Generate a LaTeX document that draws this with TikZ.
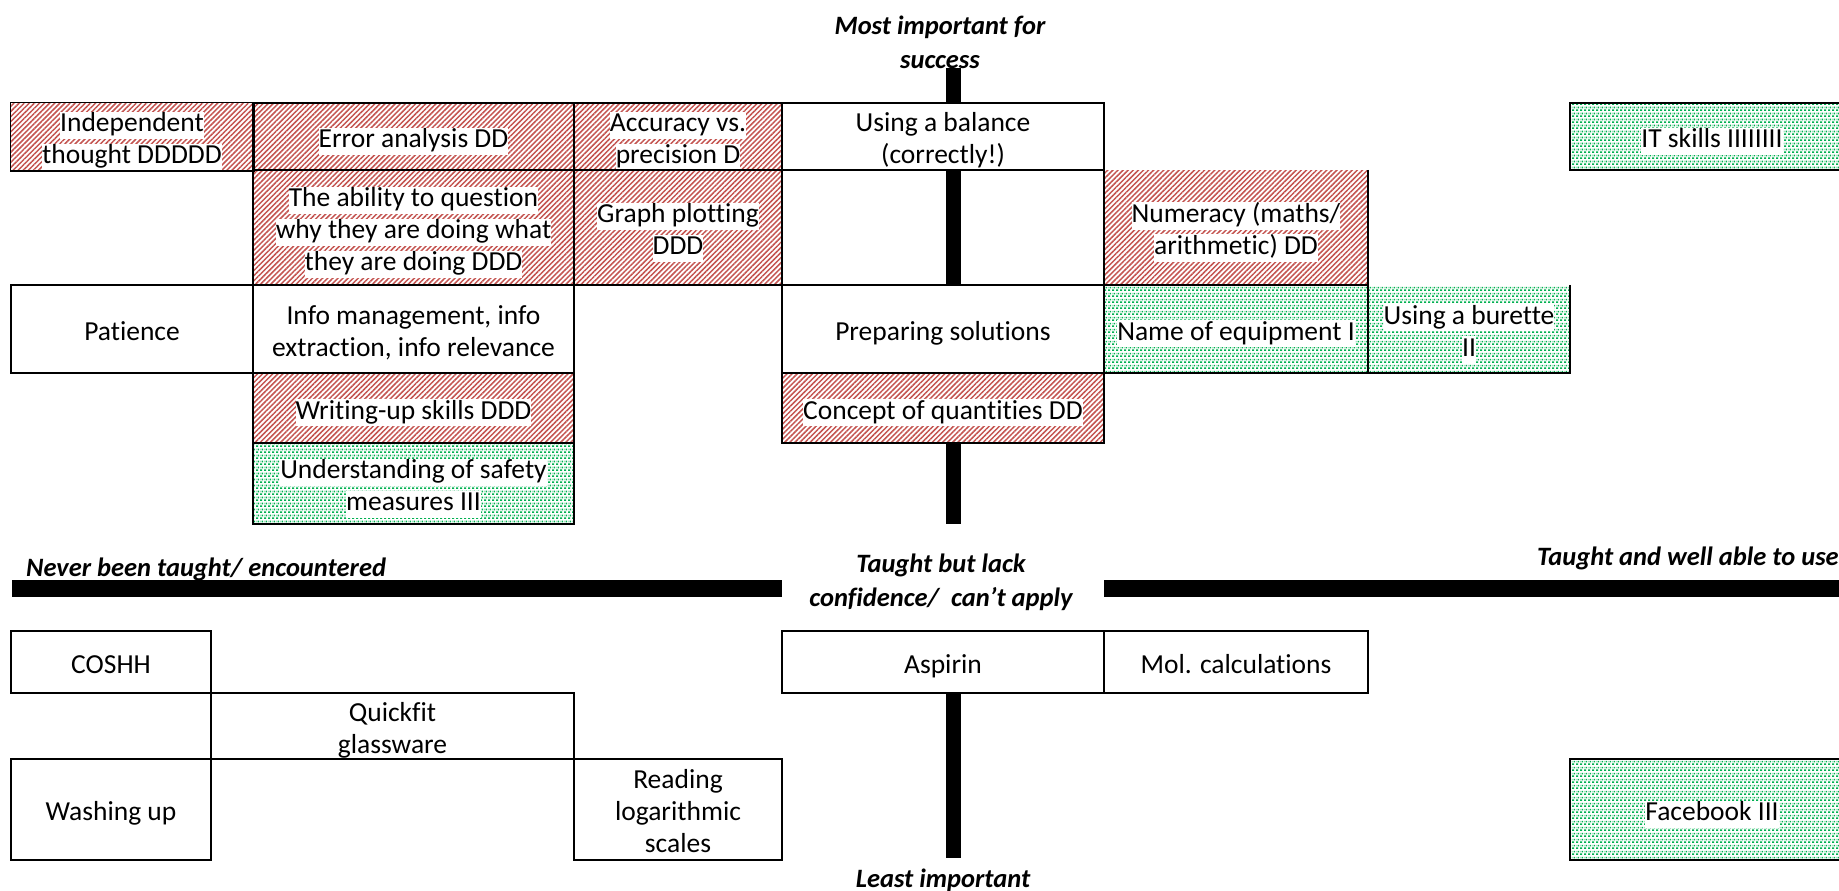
\documentclass[tikz,border=0pt]{standalone}
\usepackage{fontspec}
\setmainfont{Carlito}[Ligatures=NoCommon]
\usetikzlibrary{patterns,patterns.meta}

\definecolor{stripered}{RGB}{196,84,80}
\definecolor{dotgreen}{RGB}{0,176,80}

% small staggered dashes for the "well able" cells
\pgfdeclarepatternformonly{staggerdots}{\pgfqpoint{0pt}{0pt}}{\pgfqpoint{4pt}{6pt}}{\pgfqpoint{4pt}{6pt}}{%
  \pgfpathrectangle{\pgfqpoint{0pt}{0pt}}{\pgfqpoint{2.5pt}{1.9pt}}%
  \pgfpathrectangle{\pgfqpoint{2pt}{3pt}}{\pgfqpoint{2pt}{1.9pt}}%
  \pgfpathrectangle{\pgfqpoint{0pt}{3pt}}{\pgfqpoint{0.5pt}{1.9pt}}%
  \pgfusepath{fill}}

% white highlight behind each line of text
\newcommand{\hl}[1]{{\setlength{\fboxsep}{0pt}\colorbox{white}{\rule[-7pt]{0pt}{27pt}#1}}}

\tikzset{
  cellat/.style args={#1,#2,#3,#4}{minimum width={(#3-#1)*1pt},
    minimum height={(#4-#2)*1pt}, at={({(#1+#3)/2},{(#2+#4)/2})}},
  cellbox/.style={inner sep=0pt},
  cellborder/.style={line width=1.5pt},
  celltext/.style={inner sep=0pt, align=center, yshift=-4.5pt,
    font=\fontsize{27.5}{32}\selectfont},
  plaincell/.style={cellbox, fill=white},
  redcell/.style={cellbox, preaction={fill=white},
    pattern={Lines[angle=45,distance=3.6pt,line width=1.5pt]}, pattern color=stripered},
  greencell/.style={cellbox, preaction={fill=white},
    pattern=staggerdots, pattern color=dotgreen},
  axislabel/.style={inner sep=0pt, align=center,
    font=\fontsize{26.5}{34}\selectfont\bfseries\itshape},
  bar/.style={fill=black}
}

\begin{document}
\begin{tikzpicture}[x=1pt, y=-1pt]
\useasboundingbox (0,0) rectangle (1839,891);
\clip (0,0) rectangle (1839,891);

% axes
\fill[bar] (946,68) rectangle (961,524);
\fill[bar] (946,693) rectangle (961,858);
\fill[bar] (12,580) rectangle (782,597);
\fill[bar] (1104,580) rectangle (1845,597);

% axis labels
\node[axislabel] (top) at (940,42) {Most important for\\success};
\node[axislabel] (mid) at (941,582) {Taught but lack\\confidence/\ \ can’t apply};
\node[axislabel] (bottom) at (943,880) {Least important};
\node[axislabel, anchor=west] (left) at (26,569) {Never been taught/ encountered};
\node[axislabel, anchor=west] (right) at (1537,558) {Taught and well able to use};

% upper half
\node[redcell, cellat={11,103,253,170}, label={[celltext]center:{\hl{Independent}\\\hl{thought DDDDD}}}] (indep) {};
\node[redcell, cellat={253,103,574,170}, label={[celltext]center:{\hl{Error analysis DD}}}] (error) {};
\node[redcell, cellat={574,103,782,170}, label={[celltext]center:{\hl{Accuracy vs.}\\\hl{precision D}}}] (accuracy) {};
\node[plaincell, cellat={782,103,1104,170}, label={[celltext]center:{\hl{Using a balance}\\\hl{(correctly!)}}}] (balance) {};
\node[greencell, cellat={1570,103,1854,170}, label={[celltext]center:{\hl{IT skills IIIIIIII}}}] (itskills) {};

\node[redcell, cellat={253,170,574,285}, label={[celltext]center:{\hl{The ability to question}\\\hl{why they are doing what}\\\hl{they are doing DDD}}}] (ability) {};
\node[redcell, cellat={574,170,782,285}, label={[celltext]center:{\hl{Graph plotting}\\\hl{DDD}}}] (graph) {};
\node[cellbox, cellat={782,170,1104,285}] (opencell) {};
\node[redcell, cellat={1104,170,1368,285}, label={[celltext]center:{\hl{Numeracy (maths/}\\\hl{arithmetic) DD}}}] (numeracy) {};

\node[plaincell, cellat={11,285,253,373}, label={[celltext]center:{\hl{Patience}}}] (patience) {};
\node[plaincell, cellat={253,285,574,373}, label={[celltext]center:{\hl{Info management, info}\\\hl{extraction, info relevance}}}] (info) {};
\node[plaincell, cellat={782,285,1104,373}, label={[celltext]center:{\hl{Preparing solutions}}}] (preparing) {};
\node[greencell, cellat={1104,285,1368,373}, label={[celltext]center:{\hl{Name of equipment I}}}] (equipment) {};
\node[greencell, cellat={1368,285,1570,373}, label={[celltext]center:{\hl{Using a burette}\\\hl{II}}}] (burette) {};

\node[redcell, cellat={253,373,574,443}, label={[celltext]center:{\hl{Writing-up skills DDD}}}] (writing) {};
\node[redcell, cellat={782,373,1104,443}, label={[celltext]center:{\hl{Concept of quantities DD}}}] (concept) {};
\node[greencell, cellat={253,443,574,524}, label={[celltext]center:{\hl{Understanding of safety}\\\hl{measures III}}}] (safety) {};

% lower half
\node[plaincell, cellat={11,631,211,693}, label={[celltext]center:{\hl{COSHH}}}] (coshh) {};
\node[plaincell, cellat={211,693,574,759}, label={[celltext]center:{\hl{Quickfit}\\\hl{glassware}}}] (quickfit) {};
\node[plaincell, cellat={11,759,211,860}, label={[celltext]center:{\hl{Washing up}}}] (washing) {};
\node[plaincell, cellat={574,759,782,860}, label={[celltext]center:{\hl{Reading}\\\hl{logarithmic}\\\hl{scales}}}] (reading) {};
\node[plaincell, cellat={782,631,1104,693}, label={[celltext]center:{\hl{Aspirin}}}] (aspirin) {};
\node[plaincell, cellat={1104,631,1368,693}, label={[celltext]center:{\hl{Mol. calculations}}}] (mol) {};
\node[greencell, cellat={1570,759,1854,860}, label={[celltext]center:{\hl{Facebook III}}}] (facebook) {};

% cell outlines, drawn over the text highlights
\foreach \c in {indep,error,accuracy,balance,itskills,ability,graph,opencell,
    patience,info,preparing,equipment,writing,concept,safety,
    coshh,quickfit,washing,reading,aspirin,mol,facebook}
  \draw[cellborder] (\c.north west) rectangle (\c.south east);
% numeracy and burette cells are open along their top edge
\draw[cellborder] (numeracy.north east) -- (numeracy.south east);
\draw[cellborder] (burette.north east) -- (burette.south east) -- (burette.south west);
\end{tikzpicture}
\end{document}
